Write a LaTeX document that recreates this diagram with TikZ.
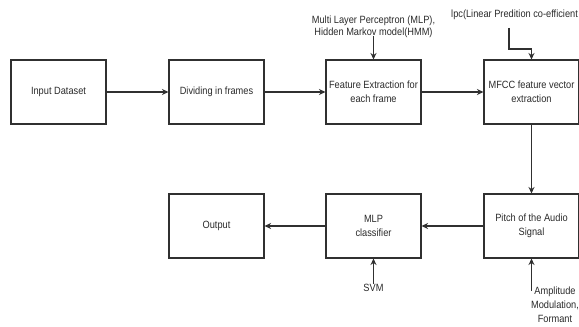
\documentclass[tikz,border=0pt]{standalone}
\usepackage{fontspec}
\setmainfont{Liberation Sans}[FakeStretch=0.88]
\usetikzlibrary{arrows.meta,positioning}
\definecolor{ln}{HTML}{303030}
\definecolor{tx}{HTML}{2A2A2A}
\tikzset{
  blk/.style={draw=ln, line width=1.1pt, minimum width=95pt, minimum height=64pt,
    inner sep=0pt, align=center, text=tx, font=\fontsize{10.5}{14}\selectfont},
  lbl/.style={inner sep=0pt, align=center, text=tx, font=\fontsize{10.5}{14}\selectfont},
  con/.style={draw=ln, line width=1.1pt, -{Stealth[length=6.5pt,width=6pt]}}
}
\begin{document}
\begin{tikzpicture}[x=1pt,y=1pt]
\useasboundingbox (0,0) rectangle (579,327);
\clip (0,0) rectangle (579,327);
\fill[white] (0,0) rectangle (579,327);
% top row
\node[blk] (in)   at (58.5,235) {Input Dataset};
\node[blk] (div)  at (216.5,235) {Dividing in frames};
\node[blk] (fe)   at (373.5,235) {Feature Extraction for\\each frame};
\node[blk] (mfcc) at (531.5,235) {MFCC feature vector\\extraction};
% bottom row
\node[blk] (out)   at (216.5,101) {Output};
\node[blk] (mlp)   at (373.5,101) {MLP\\classifier};
\node[blk] (pitch) at (531.5,101) {Pitch of the Audio\\Signal};
% labels
\node[lbl, font=\fontsize{10.5}{11.5}\selectfont] (mlplbl) at (373.5,300) {Multi Layer Perceptron (MLP),\\Hidden Markov model(HMM)};
\node[lbl, anchor=west] (lpc) at (451,312) {lpc(Linear Predition co-efficient};
\node[lbl] (svm) at (373.5,39) {SVM};
\node[lbl] (amp) at (555,22) {Amplitude\\Modulation,\\Formant};
\coordinate (mlpstart) at (373.5,291);
\coordinate (lpcstart) at (509,299);
\coordinate (lpcbend) at (509,278);
\coordinate (ampstart) at (531.5,36);
% connectors
\draw[con] (in) -- (div);
\draw[con] (div) -- (fe);
\draw[con] (fe) -- (mfcc);
\draw[con] (mfcc) -- (pitch);
\draw[con] (pitch) -- (mlp);
\draw[con] (mlp) -- (out);
\draw[con] (mlpstart) -- (fe.north);
\draw[con] (lpcstart) -- (lpcbend) -| (mfcc.north);
\draw[con] (svm.north) -- (mlp.south);
\draw[con] (ampstart) -- (pitch.south);
\end{tikzpicture}
\end{document}
